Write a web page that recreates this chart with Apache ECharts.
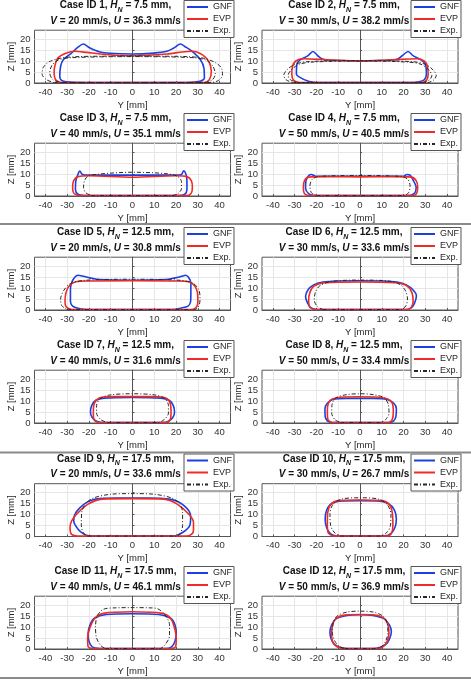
<!DOCTYPE html>
<html>
<head>
<meta charset="utf-8">
<style>
html,body{margin:0;padding:0;background:#fff;}
#main{width:471px;height:680px;}
</style>
</head>
<body>
<div id="main"></div>
<script src="https://cdn.jsdelivr.net/npm/echarts@6/dist/echarts.min.js"></script>
<script>
// case parameters
var hN = [7.5, 7.5, 7.5, 7.5, 12.5, 12.5, 12.5, 12.5, 17.5, 17.5, 17.5, 17.5];
var speedV = [20, 30, 40, 50, 20, 30, 40, 50, 20, 30, 40, 50];
var speedU = [36.3, 38.2, 35.1, 40.5, 30.8, 33.6, 31.6, 33.4, 33.6, 26.7, 46.1, 36.9];
var yTicks = [-40, -30, -20, -10, 0, 10, 20, 30, 40];
var zTicks = [0, 5, 10, 15, 20];

// cross-section profiles [Y mm, Z mm]
var gnf1 = [[-22,0.2],[22,0.2],[31,0.8],[33,2.3],[32.8,6.8],[31.2,10.6],[27.4,14.4],[24,16.6],[22,17.7],[19,15.9],[15.8,14.4],[9.7,13.6],[0,13.2],[-10.3,13.5],[-15,14.1],[-19.5,15.9],[-22.6,17.7],[-25,16.3],[-28,13.6],[-31.8,10.6],[-33,7.6],[-33.4,3],[-32.6,1.2],[-30.3,0.5],[-22,0.2]];
var evp1 = [[-33,0.2],[33,0.2],[35.3,1.5],[36.2,5.3],[35,9.8],[32,12.9],[27.4,14.4],[22.8,14.1],[15.8,13.2],[0,12.4],[-15,13.2],[-21,13.9],[-26.5,14.4],[-30.3,13.6],[-34.2,11.4],[-35.6,8],[-36,4.5],[-35.3,1.5],[-33,0.2]];
var exp1 = [[-36,0.2],[36,0.2],[39.5,1.2],[41.3,3.5],[41,6.5],[38.5,9],[33,11.2],[25,12],[10,12.2],[0,12.3],[-10,12.2],[-25,12],[-33,11.3],[-38.5,9.5],[-41,7],[-41.5,4],[-39.5,1.5],[-36,0.2]];
var exp1b = [[-33,0.2],[33,0.2],[36.5,1.3],[38,4],[37,7.5],[34,10.3],[28,11.5],[0,12],[-28,11.5],[-34,10.5],[-37,8],[-38,4.5],[-36.5,1.5],[-33,0.2]];

var gnf2 = [[-20,0.2],[22.8,0.2],[27,0.6],[29.5,1.5],[30.5,4],[30,8.5],[28,10.5],[24.5,12.3],[22.1,14.3],[19.5,12.5],[17,10.8],[10,10.2],[0,10],[-10,10.2],[-17,10.8],[-19.5,12.5],[-21.6,14.3],[-24,12.3],[-27.5,10.5],[-29,8.5],[-29.2,4],[-28,2.8],[-24,0.9],[-20,0.2]];
var evp2 = [[-28,0.2],[28,0.2],[30.5,1.2],[31.3,4],[31,7.5],[29.5,10],[26,11],[15,10.6],[0,10],[-15,10.6],[-26,11],[-29.5,10],[-31,7.5],[-31.3,4],[-30.5,1.2],[-28,0.2]];
var exp2 = [[-31,0.2],[31,0.2],[34,1.5],[35,3.5],[33.5,6],[30,8.5],[24,9.7],[0,10.2],[-24,9.7],[-30,8.5],[-33.5,6],[-35,3.5],[-34,1.5],[-31,0.2]];
var exp2b = [[-29,0.2],[29,0.2],[32,1.5],[33,3.5],[31.5,6],[28,8.5],[22,9.5],[0,10],[-22,9.5],[-28,8.5],[-31.5,6],[-33,3.5],[-32,1.5],[-29,0.2]];

var gnf3 = [[-22,0.2],[21,0.2],[24,0.8],[25,3],[25,7],[24.5,10],[23.5,11.5],[22.5,9.8],[20,9.5],[0,9.5],[-20,9.5],[-23,9.8],[-24.2,11.3],[-25,10],[-26,7],[-26.2,3],[-25,0.8],[-22,0.2]];
var evp3 = [[-25,0.2],[25,0.2],[27,1.3],[27.5,4],[27,7],[25,8.8],[20,9.2],[0,8.5],[-20,9.2],[-25,8.8],[-27,7],[-27.5,4],[-27,1.3],[-25,0.2]];
var exp3 = [[-19,0.2],[18,0.2],[21,1.2],[22.5,3.5],[22.5,6.5],[20.5,9],[15,10.2],[0,10.8],[-15,10],[-20.5,9],[-22,7],[-22.5,4],[-21.5,1.5],[-19,0.2]];

var gnf4 = [[-21,0.2],[22,0.2],[25,1.2],[25.8,4],[24.5,7],[23,9.5],[21.5,9.8],[20,9],[0,9],[-20.5,9],[-22.3,9.8],[-23.5,9.3],[-24.8,7],[-25,3.5],[-23.5,1],[-21,0.2]];
var evp4 = [[-24,0.2],[24.5,0.2],[26,1.2],[26.5,4],[25.8,7],[23.5,8.6],[15,8.8],[0,8.7],[-15,8.8],[-23.5,8.6],[-25.5,7],[-26,4],[-25.6,1.2],[-24,0.2]];
var exp4 = [[-20,0.2],[20,0.2],[22.3,1.5],[23,4.5],[22,7.5],[19,8.9],[0,9.3],[-19,8.9],[-22,7.5],[-23,4.5],[-22.3,1.5],[-20,0.2]];

var gnf5 = [[-21,0.2],[19,0.2],[22,0.8],[25.5,1.8],[26.7,4],[26.8,9],[26.8,12.3],[25.8,14.8],[24.4,15.8],[22.5,15.3],[19.6,14.6],[15,13.8],[0,13.5],[-15,13.8],[-19.6,14.6],[-22.5,15.3],[-25,15.8],[-26.6,14.8],[-28,12.3],[-28.5,9],[-28.5,4],[-27.5,1.8],[-25,0.8],[-21,0.2]];
var evp5 = [[-28,0.2],[27,0.2],[29.5,1.5],[30,4],[29.8,8],[28.5,11],[26,12.8],[20,13.2],[0,13.3],[-20,13.2],[-26,12.8],[-29,11],[-30.5,8],[-31,4],[-30.5,1.5],[-28,0.2]];
var exp5 = [[-30,0.2],[28.5,0.2],[30.5,2],[31,5],[30.5,9],[28,12],[22,13.5],[0,14],[-22,13.5],[-28.5,12],[-31.5,9],[-33,5],[-32.5,2],[-30,0.2]];

var gnf6 = [[-20,0.2],[21,0.2],[23.5,1],[25,3],[25.9,6.5],[24.5,9],[21.5,11.3],[17,12.7],[10,13.2],[0,13.3],[-10,13.2],[-17,12.7],[-21.5,11.3],[-24,9],[-25,6],[-24,3],[-22.5,1],[-20,0.2]];
var evp6 = [[-21,0.2],[21.5,0.2],[23.5,1.2],[24.4,4],[23.8,8],[21.5,11],[16,12.4],[0,12.7],[-16,12.4],[-21,11],[-23,8],[-23.6,4],[-23,1.2],[-21,0.2]];
var exp6 = [[-17,0.2],[18.5,0.2],[21,1.8],[21.8,5],[21,8.5],[18.5,11.5],[13,13.2],[0,13.6],[-13,13],[-18.5,11],[-20.5,8],[-21,4.5],[-19.5,1.5],[-17,0.2]];

var gnf7 = [[-14,0.2],[14,0.2],[16.5,0.8],[18.5,2.5],[19.3,5],[18.7,8],[17,10.2],[13,11.3],[0,11.6],[-13,11.3],[-17,10.2],[-18.7,8],[-19.3,5],[-18.5,2.5],[-16.5,0.8],[-14,0.2]];
var evp7 = [[-16,0.2],[15.5,0.2],[17.3,1.5],[17.7,5],[17.3,9],[15.5,11.3],[10,12],[0,12],[-10,12],[-15.5,11.3],[-17.5,9],[-18,5],[-17.7,1.5],[-16,0.2]];
var exp7 = [[-11.5,0.2],[11.5,0.2],[14.5,1.5],[16.5,4.5],[16.5,8],[14.5,11.3],[10,12.8],[0,13.3],[-10,12.8],[-14.5,11.3],[-16.5,8],[-16.5,4.5],[-14.5,1.5],[-11.5,0.2]];

var gnf8 = [[-13,0.2],[13,0.2],[15.5,1],[16.5,3],[16.7,6.5],[15.5,9],[12.5,10.7],[6,11.2],[0,11.2],[-6,11.2],[-12.5,10.7],[-15,9],[-16.1,6.5],[-16,3],[-15,1],[-13,0.2]];
var evp8 = [[-13,0.2],[13,0.2],[14.8,1.5],[15.3,5],[14.8,9],[12.5,11],[7,11.8],[0,11.9],[-7,11.8],[-12.5,11],[-14.5,9],[-15,5],[-14.7,1.5],[-13,0.2]];
var exp8 = [[-9,0.2],[9,0.2],[11.7,1.5],[13.3,4.5],[13,8.5],[11,11.5],[6,12.9],[0,13.3],[-6,12.9],[-11,11.5],[-12.8,8.5],[-13,4.5],[-11.5,1.5],[-9,0.2]];

var gnf9 = [[-20,0.2],[19,0.2],[23,1.8],[26.3,5],[26.7,9],[26,11.5],[23.8,13.9],[21,15.8],[17,17],[8,17.5],[0,17.5],[-8,17.5],[-17,17],[-21,15.5],[-24.2,13],[-26.5,10],[-27,7],[-25,3.3],[-22.5,1.2],[-20,0.2]];
var evp9 = [[-25.5,0.2],[25,0.2],[27.3,1.2],[28,3],[28,6.4],[26,10],[20.5,14.7],[14.4,17],[0,17.2],[-14,17],[-20.4,14.7],[-25.8,10],[-28,7],[-28.7,4],[-28,1],[-25.5,0.2]];
var exp9 = [[-20.5,0.2],[20,0.2],[22,1.5],[23,5],[23,11],[21.5,15],[18,17.5],[10,19.2],[0,19.5],[-10,19.2],[-18,17.5],[-21.5,15],[-23.3,11],[-23.5,5],[-22.5,1.5],[-20.5,0.2]];

var gnf10 = [[-11,0.2],[11,0.2],[14,1.2],[16,4],[16.7,8],[15.8,12],[13,15],[8,16.2],[0,16.3],[-8,16.2],[-13,15],[-15.3,12],[-16,8],[-15.3,4],[-13.5,1.2],[-11,0.2]];
var evp10 = [[-12.5,0.2],[12.5,0.2],[14.5,1.5],[15.1,5],[14.8,11],[13.5,14.5],[10,16.3],[0,16.6],[-10,16.3],[-13.5,14.5],[-14.8,11],[-15,5],[-14.5,1.5],[-12.5,0.2]];
var exp10 = [[-9,0.2],[9,0.2],[12,1.5],[14,5],[14.2,10],[12.5,14.5],[8.5,17],[0,17.6],[-8.5,17],[-12.5,14.5],[-13.8,10],[-13.5,5],[-11.5,1.5],[-9,0.2]];

var gnf11 = [[-15,0.2],[15,0.2],[18,1],[19.5,3.5],[20.1,7],[19.5,11],[17.5,14],[12,15.7],[0,16],[-12,15.7],[-17.5,14],[-19.5,11],[-20.4,7],[-20,3.5],[-18.5,1],[-15,0.2]];
var evp11 = [[-18,0.2],[17.5,0.2],[19.8,1.1],[20.1,5],[19.3,9.5],[17.5,14],[13.6,16.2],[0,16.9],[-13.4,16.2],[-17.3,14],[-19.6,9.5],[-20.6,5],[-20.4,1.1],[-18,0.2]];
var exp11 = [[-12.5,0.2],[12.5,0.2],[15,2],[17,6],[17,11],[14.5,16],[11.5,18.3],[8,18.7],[0,18.8],[-8,18.7],[-13.5,18],[-16.2,15],[-17,10],[-16.5,5],[-14.5,1.5],[-12.5,0.2]];

var gnf12 = [[-6,0.2],[6,0.2],[9,0.7],[11.8,2],[13.5,4.5],[14.4,8],[13.5,11],[11,13.8],[6,15.3],[0,15.6],[-6,15.3],[-11,13.8],[-13,11],[-13.8,7.5],[-13.2,4.5],[-11.5,2],[-9,0.7],[-6,0.2]];
var evp12 = [[-8,0.2],[8,0.2],[10.5,1],[12.5,3.5],[13.3,7],[13,10.5],[11.5,13.5],[8,15.3],[0,15.7],[-8,15.3],[-11.5,13.3],[-12.8,10],[-13,6],[-12.5,3],[-10.5,1],[-8,0.2]];
var exp12 = [[-7,0.2],[7,0.2],[10,1.2],[11.8,3.5],[12.8,7.5],[12.4,12],[10.5,15],[6,16.8],[0,17.2],[-6,16.8],[-10.5,15],[-12.2,12],[-12.7,7.5],[-11.5,3.5],[-9.5,1.2],[-7,0.2]];

var gnfAll = [gnf1, gnf2, gnf3, gnf4, gnf5, gnf6, gnf7, gnf8, gnf9, gnf10, gnf11, gnf12];
var evpAll = [evp1, evp2, evp3, evp4, evp5, evp6, evp7, evp8, evp9, evp10, evp11, evp12];
var expAll = [[exp1, exp1b], [exp2, exp2b], [exp3], [exp4], [exp5], [exp6], [exp7], [exp8], [exp9], [exp10], [exp11], [exp12]];

// layout
var FONT = 'Liberation Sans, Arial, sans-serif';
var colLeft = [34.5, 262];
var titleX = [115.5, 344];
var legendX = [184, 411];
var rowBase = [83, 196, 310, 423, 536.5, 649];
var plotW = 196, plotH = 52.8;
var BLUE = '#1d3fe0', RED = '#ee2b25', DARK = '#262626';

var grids = [], xAxes = [], yAxes = [], series = [], legends = [], graphics = [];

for (var i = 0; i < 12; i++) {
    var col = i % 2, row = Math.floor(i / 2);
    var y0 = rowBase[row];
    grids.push({
        left: colLeft[col], top: y0 - plotH, width: plotW, height: plotH,
        show: true, borderColor: '#555', borderWidth: 1, backgroundColor: '#fff',
        outerBoundsMode: 'none'
    });
    xAxes.push({
        type: 'value', gridIndex: i, min: -45, max: 45,
        name: 'Y [mm]', nameLocation: 'middle', nameGap: 17,
        nameTextStyle: {fontSize: 9.5, color: DARK, fontFamily: FONT},
        axisLine: {show: true, onZero: false, lineStyle: {color: '#555', width: 1}},
        axisTick: {show: true, inside: true, length: 2, customValues: yTicks, lineStyle: {color: '#555'}},
        axisLabel: {customValues: yTicks, fontSize: 9.5, color: '#333', margin: 4, fontFamily: FONT},
        splitLine: {show: true, lineStyle: {color: '#e6e6e6', width: 1}}
    });
    yAxes.push({
        type: 'value', gridIndex: i, min: 0, max: 24,
        name: 'Z [mm]', nameLocation: 'middle', nameGap: 14, nameRotate: 90,
        nameTextStyle: {fontSize: 9.5, color: DARK, fontFamily: FONT},
        axisLine: {show: true, lineStyle: {color: '#555', width: 1}},
        axisTick: {show: true, inside: true, length: 2, customValues: zTicks, lineStyle: {color: '#555'}},
        axisLabel: {customValues: zTicks, fontSize: 9.5, color: '#333', margin: 4, fontFamily: FONT},
        splitLine: {show: true, lineStyle: {color: '#e6e6e6', width: 1}}
    });
    series.push({
        type: 'line', name: 'GNF', xAxisIndex: i, yAxisIndex: i, data: gnfAll[i],
        symbol: 'none', showSymbol: false, smooth: 0.3,
        lineStyle: {color: BLUE, width: 1.6}, itemStyle: {color: BLUE}
    });
    series.push({
        type: 'line', name: 'EVP', xAxisIndex: i, yAxisIndex: i, data: evpAll[i],
        symbol: 'none', showSymbol: false, smooth: 0.3,
        lineStyle: {color: RED, width: 1.6}, itemStyle: {color: RED}
    });
    expAll[i].forEach(function (loop) {
        series.push({
            type: 'line', name: 'Exp.', xAxisIndex: i, yAxisIndex: i, data: loop,
            symbol: 'none', showSymbol: false, smooth: 0.3,
            lineStyle: {color: DARK, width: 1, type: [4, 2, 1, 2]}, itemStyle: {color: DARK}
        });
    });
    legends.push({
        orient: 'vertical', left: legendX[col], top: y0 - 82.5,
        data: ['GNF', 'EVP', 'Exp.'], selectedMode: false,
        itemWidth: 21, itemHeight: 8, itemGap: 3, padding: [2, 2, 2, 2],
        itemStyle: {opacity: 0},
        backgroundColor: '#fff', borderColor: '#555', borderWidth: 1,
        textStyle: {fontSize: 9, color: DARK, fontFamily: FONT}
    });
    graphics.push({
        type: 'text', x: titleX[col], y: y0 - 69.7, z: 10,
        style: {
            text: '{b|Case ID ' + (i + 1) + ', }{bi|H}{sub|N}{b| = ' + hN[i] + ' mm,}\n' +
                  '{bi|V}{b| = ' + speedV[i] + ' mm/s, }{bi|U}{b| = ' + speedU[i] + ' mm/s}',
            align: 'center', verticalAlign: 'middle', fill: '#111',
            rich: {
                b: {fontSize: 10, fontWeight: 'bold', fontFamily: FONT, lineHeight: 15.5, fill: '#111'},
                bi: {fontSize: 10, fontWeight: 'bold', fontStyle: 'italic', fontFamily: FONT, lineHeight: 15.5, fill: '#111'},
                sub: {fontSize: 7, fontWeight: 'bold', fontStyle: 'italic', fontFamily: FONT, lineHeight: 15.5, verticalAlign: 'bottom', padding: [5, 0, 0, 0], fill: '#111'}
            }
        }
    });
}

// block separators
[223, 451.5, 677].forEach(function (sy) {
    graphics.push({type: 'rect', shape: {x: 0, y: sy, width: 471, height: 2}, style: {fill: '#8a8a8a'}, z: 10});
});

var myChart = echarts.init(document.getElementById('main'));
myChart.setOption({
    animation: false,
    backgroundColor: '#fff',
    grid: grids,
    xAxis: xAxes,
    yAxis: yAxes,
    legend: legends,
    series: series,
    graphic: graphics
});
</script>
</body>
</html>
